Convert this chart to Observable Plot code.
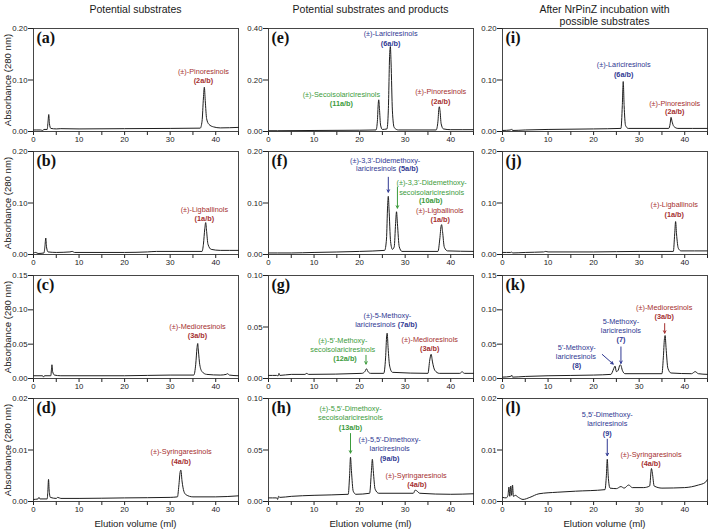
<!DOCTYPE html>
<html>
<head>
<meta charset="utf-8">
<script src="https://cdn.jsdelivr.net/npm/d3@7"></script>
<script src="https://cdn.jsdelivr.net/npm/@observablehq/plot@0.6"></script>
<style>
  body { margin: 0; background: #fff; font-family: "Liberation Sans", Arial, sans-serif; }
  #fig { position: relative; width: 709px; height: 530px; overflow: hidden; background: #fff; }
  .panel { position: absolute; }
  .title { position: absolute; font-size: 10.5px; line-height: 11px; color: #1a1a1a; white-space: nowrap; transform: translate(-50%, -50%); }
  .xlab { position: absolute; font-size: 9.6px; color: #1a1a1a; white-space: nowrap; transform: translate(-50%, -50%); }
  .ylab { position: absolute; font-size: 9.6px; color: #1a1a1a; white-space: nowrap; transform: translate(-50%, -50%) rotate(-90deg); }
</style>
</head>
<body>
<div id="fig"></div>
<script>
// ---- column headings, axis titles, ticks ----
const columnTitles = [["Potential substrates"], ["Potential substrates and products"], ["After NrPinZ incubation with", "possible substrates"]];
const xTitle = "Elution volume (ml)";
const yTitle = "Absorbance (280 nm)";
const xTicks = [0, 5, 10, 15, 20, 25, 30, 35, 40, 45];
const xTickLabels = [0, 10, 20, 30, 40];
const yTicks020 = [0, 0.10, 0.20];
const yTicks040 = [0, 0.20, 0.40];
const yTicks015 = [0, 0.05, 0.10, 0.15];
const yTicks010 = [0, 0.05, 0.10];
const yTicks002 = [0, 0.01, 0.02];

// ---- chromatogram traces: [elution volume (ml), absorbance] ----
const traceA = [[0,0.003],[1.5,0.003],[2,0.002],[2.3,0.004],[3.0,0.004],[3.2,0.02],[3.35,0.033],[3.5,0.015],[3.8,0.006],[5,0.005],[6,0.0055],[10,0.005],[20,0.0055],[30,0.006],[36.6,0.0065],[37.0,0.02],[37.3,0.065],[37.5,0.086],[37.7,0.06],[38,0.025],[38.5,0.014],[39.5,0.009],[41,0.007],[45,0.008]];
const traceB = [[0,0.003],[0.5,0.004],[1,0.002],[2.3,0.003],[2.5,0.015],[2.7,0.032],[2.85,0.015],[3.2,0.005],[5,0.004],[8,0.005],[8.5,0.006],[9,0.004],[20,0.004],[25,0.005],[27,0.006],[37.0,0.006],[37.3,0.02],[37.6,0.05],[37.8,0.062],[38.0,0.045],[38.3,0.02],[39,0.01],[41,0.008],[45,0.008]];
const traceC = [[0,0.004],[2,0.004],[2.2,0.002],[2.4,0.004],[3.8,0.004],[3.95,0.014],[4.05,0.02],[4.2,0.01],[4.6,0.005],[6,0.004],[20,0.004],[30,0.005],[35.2,0.005],[35.6,0.02],[35.9,0.045],[36.05,0.051],[36.2,0.04],[36.5,0.02],[37,0.01],[38,0.006],[41,0.005],[42.3,0.006],[42.6,0.007],[43,0.005],[45,0.004]];
const traceD = [[0,0.0004],[1,0.0005],[1.2,0.0008],[1.4,0.0005],[3.0,0.0005],[3.15,0.002],[3.3,0.0043],[3.45,0.002],[3.7,0.0008],[5,0.0006],[5.3,0.0008],[6,0.0006],[10,0.0006],[20,0.0007],[30,0.0008],[31.6,0.0009],[31.9,0.003],[32.2,0.0058],[32.35,0.0061],[32.6,0.004],[33,0.002],[33.5,0.0013],[35,0.0009],[40,0.0009],[45,0.0011]];
const traceE = [[0,0.003],[2,0.003],[10,0.004],[20,0.005],[23.6,0.006],[23.9,0.04],[24.1,0.11],[24.2,0.123],[24.35,0.09],[24.6,0.025],[25,0.008],[26,0.01],[26.3,0.08],[26.6,0.3],[26.75,0.33],[26.9,0.27],[27.2,0.08],[27.6,0.015],[28.5,0.006],[36.8,0.006],[37.2,0.04],[37.4,0.09],[37.5,0.096],[37.65,0.08],[37.9,0.03],[38.4,0.01],[40,0.007],[45,0.007]];
const traceF = [[0,0.003],[2,0.003],[5,0.003],[10,0.004],[20,0.006],[25.5,0.008],[25.9,0.03],[26.15,0.095],[26.3,0.113],[26.45,0.09],[26.8,0.025],[27.2,0.01],[27.6,0.015],[27.9,0.06],[28.1,0.083],[28.3,0.06],[28.7,0.015],[29.3,0.006],[37.2,0.006],[37.6,0.03],[37.9,0.056],[38.0,0.058],[38.2,0.045],[38.6,0.014],[39.3,0.007],[45,0.006]];
const traceG = [[0,0.003],[1.8,0.003],[2.1,0.0025],[2.3,0.005],[2.5,0.003],[5,0.004],[8,0.004],[8.4,0.005],[8.8,0.004],[20.5,0.005],[21.2,0.007],[21.5,0.0095],[21.8,0.007],[22.4,0.005],[25.3,0.005],[25.7,0.02],[25.95,0.042],[26.05,0.044],[26.25,0.03],[26.6,0.012],[27.2,0.006],[35,0.005],[35.4,0.018],[35.7,0.0235],[36.0,0.016],[36.5,0.008],[37.5,0.005],[42,0.005],[42.5,0.0065],[43,0.005],[45,0.005]];
const traceH = [[0,0.0035],[1.8,0.0035],[2.0,0.002],[2.2,0.005],[2.5,0.004],[5,0.005],[10,0.006],[17.5,0.007],[17.8,0.025],[18.0,0.043],[18.2,0.03],[18.6,0.01],[19.2,0.007],[22.2,0.008],[22.6,0.03],[22.8,0.041],[23.0,0.03],[23.4,0.012],[24.2,0.008],[31.8,0.008],[32.2,0.011],[32.5,0.0105],[33.2,0.008],[40,0.007],[45,0.0075]];
const traceI = [[0,0.002],[1.8,0.003],[2.0,0.005],[2.2,0.002],[5,0.003],[10,0.004],[20,0.005],[26.0,0.006],[26.3,0.05],[26.5,0.097],[26.7,0.05],[27.0,0.012],[27.6,0.006],[36.5,0.006],[36.8,0.015],[37.0,0.0275],[37.2,0.02],[37.6,0.01],[38.5,0.006],[45,0.006]];
const traceJ = [[0,0.004],[1.8,0.004],[2.0,0.005],[2.2,0.003],[5,0.004],[9,0.005],[9.5,0.006],[10,0.005],[20,0.005],[30,0.006],[37.5,0.006],[37.8,0.04],[38.0,0.064],[38.2,0.04],[38.6,0.012],[39.2,0.007],[45,0.007]];
const traceK = [[0,0.002],[1.8,0.003],[2.0,0.005],[2.2,0.002],[5,0.003],[10,0.004],[20,0.005],[23.8,0.006],[24.4,0.014],[24.7,0.018],[25.0,0.01],[25.4,0.012],[25.8,0.02],[26.0,0.019],[26.3,0.012],[26.9,0.007],[35,0.007],[35.3,0.03],[35.55,0.058],[35.7,0.0626],[35.9,0.045],[36.3,0.015],[37,0.008],[41.5,0.007],[42.3,0.01],[43,0.007],[45,0.006]];
const traceL = [[0,0.0008],[0.8,0.0007],[1.2,0.0012],[1.4,0.0028],[1.6,0.001],[1.8,0.003],[2.0,0.0012],[2.2,0.0032],[2.4,0.001],[2.8,0.0012],[3.5,0.0008],[4.5,0.0004],[6,0.0008],[8,0.0015],[12,0.0018],[16,0.002],[22.5,0.0023],[22.8,0.005],[23.0,0.0082],[23.2,0.005],[23.6,0.0026],[25,0.0025],[26,0.0029],[26.7,0.0026],[27.7,0.0032],[28.5,0.0027],[31,0.0027],[32.3,0.003],[32.7,0.0064],[32.9,0.0055],[33.3,0.003],[35,0.0026],[40,0.0027],[43,0.0032],[44.5,0.0037],[45,0.0043]];

// ---- peak annotations (hue: sub = substrate, lar = lariciresinol, seco = secoisolariciresinol) ----
const labelsA = [{x:37.3,y:0.117,text:"(±)-Pinoresinols",hue:"sub"},{x:37.3,y:0.098,text:"(2a/b)",hue:"sub",bold:true}];
const labelsB = [{x:37.5,y:0.088,text:"(±)-Ligballinols",hue:"sub"},{x:37.5,y:0.069,text:"(1a/b)",hue:"sub",bold:true}];
const labelsC = [{x:36,y:0.076,text:"(±)-Medioresinols",hue:"sub"},{x:36,y:0.063,text:"(3a/b)",hue:"sub",bold:true}];
const labelsD = [{x:32.4,y:0.0096,text:"(±)-Syringaresinols",hue:"sub"},{x:32.4,y:0.0078,text:"(4a/b)",hue:"sub",bold:true}];
const labelsE = [
  {x:26.8,y:0.381,text:"(±)-Lariciresinols",hue:"lar"},{x:26.8,y:0.342,text:"(6a/b)",hue:"lar",bold:true},
  {x:16,y:0.142,text:"(±)-Secoisolariciresinols",hue:"seco"},{x:16,y:0.108,text:"(11a/b)",hue:"seco",bold:true},
  {x:37.8,y:0.155,text:"(±)-Pinoresinols",hue:"sub"},{x:37.8,y:0.117,text:"(2a/b)",hue:"sub",bold:true}];
const labelsF = [
  {x:25.6,y:0.183,text:"(±)-3,3'-Didemethoxy-",hue:"lar"},{x:28.3,y:0.166,text:"lariciresinols",tag:"(5a/b)",hue:"lar"},
  {x:35.8,y:0.140,text:"(±)-3,3'-Didemethoxy-",hue:"seco"},{x:35.8,y:0.121,text:"secoisolariciresinols",hue:"seco"},{x:35.6,y:0.104,text:"(10a/b)",hue:"seco",bold:true},
  {x:37.6,y:0.085,text:"(±)-Ligballinols",hue:"sub"},{x:37.7,y:0.067,text:"(1a/b)",hue:"sub",bold:true}];
const labelsG = [
  {x:26.1,y:0.061,text:"(±)-5-Methoxy-",hue:"lar"},{x:28.1,y:0.052,text:"lariciresinols",tag:"(7a/b)",hue:"lar"},
  {x:16.3,y:0.037,text:"(±)-5'-Methoxy-",hue:"seco"},{x:16.3,y:0.028,text:"secoisolariciresinols",hue:"seco"},{x:16.8,y:0.019,text:"(12a/b)",hue:"seco",bold:true},
  {x:35.4,y:0.038,text:"(±)-Medioresinols",hue:"sub"},{x:35.4,y:0.029,text:"(3a/b)",hue:"sub",bold:true}];
const labelsH = [
  {x:18,y:0.090,text:"(±)-5,5'-Dimethoxy-",hue:"seco"},{x:18,y:0.081,text:"secoisolariciresinols",hue:"seco"},{x:18,y:0.072,text:"(13a/b)",hue:"seco",bold:true},
  {x:26.6,y:0.060,text:"(±)-5,5'-Dimethoxy-",hue:"lar"},{x:26.6,y:0.051,text:"lariciresinols",hue:"lar"},{x:26.6,y:0.042,text:"(9a/b)",hue:"lar",bold:true},
  {x:32.4,y:0.0255,text:"(±)-Syringaresinols",hue:"sub"},{x:32.6,y:0.0167,text:"(4a/b)",hue:"sub",bold:true}];
const labelsI = [
  {x:26.6,y:0.129,text:"(±)-Lariciresinols",hue:"lar"},{x:26.6,y:0.111,text:"(6a/b)",hue:"lar",bold:true},
  {x:37.8,y:0.055,text:"(±)-Pinoresinols",hue:"sub"},{x:37.8,y:0.038,text:"(2a/b)",hue:"sub",bold:true}];
const labelsJ = [{x:37.7,y:0.096,text:"(±)-Ligballinols",hue:"sub"},{x:37.7,y:0.078,text:"(1a/b)",hue:"sub",bold:true}];
const labelsK = [
  {x:35.5,y:0.103,text:"(±)-Medioresinols",hue:"sub"},{x:35.5,y:0.090,text:"(3a/b)",hue:"sub",bold:true},
  {x:26.0,y:0.083,text:"5-Methoxy-",hue:"lar"},{x:26.0,y:0.070,text:"lariciresinols",hue:"lar"},{x:26.0,y:0.056,text:"(7)",hue:"lar",bold:true},
  {x:16.3,y:0.045,text:"5'-Methoxy-",hue:"lar"},{x:16.1,y:0.032,text:"lariciresinols",hue:"lar"},{x:16.3,y:0.019,text:"(8)",hue:"lar",bold:true}];
const labelsL = [
  {x:23.0,y:0.0169,text:"5,5'-Dimethoxy-",hue:"lar"},{x:23.0,y:0.0151,text:"lariciresinols",hue:"lar"},{x:23.0,y:0.0131,text:"(9)",hue:"lar",bold:true},
  {x:32.6,y:0.0090,text:"(±)-Syringaresinols",hue:"sub"},{x:32.6,y:0.0073,text:"(4a/b)",hue:"sub",bold:true}];

// ---- pointer arrows ----
const arrowsF = [{x1:26.3,y1:0.150,x2:26.3,y2:0.121,hue:"lar"},{x1:28.3,y1:0.131,x2:28.3,y2:0.090,hue:"seco"}];
const arrowsG = [{x1:21.4,y1:0.0225,x2:21.4,y2:0.0140,hue:"seco"}];
const arrowsH = [{x1:18,y1:0.066,x2:18,y2:0.047,hue:"seco"}];
const arrowsK = [{x1:35.6,y1:0.080,x2:35.6,y2:0.066,hue:"sub"},{x1:26.0,y1:0.046,x2:26.0,y2:0.022,hue:"lar"},{x1:21.9,y1:0.035,x2:24.3,y2:0.021,hue:"lar"}];
const arrowsL = [{x1:23.0,y1:0.0121,x2:23.0,y2:0.0089,hue:"lar"}];

const hues = {sub: "#a5302f", lar: "#2f3892", seco: "#3c9b3c"};

const panels = [
  {id:"a", col:0, row:0, yMax:0.20, yTicks:yTicks020, trace:traceA, labels:labelsA, arrows:[]},
  {id:"b", col:0, row:1, yMax:0.20, yTicks:yTicks020, trace:traceB, labels:labelsB, arrows:[]},
  {id:"c", col:0, row:2, yMax:0.15, yTicks:yTicks015, trace:traceC, labels:labelsC, arrows:[]},
  {id:"d", col:0, row:3, yMax:0.02, yTicks:yTicks002, trace:traceD, labels:labelsD, arrows:[]},
  {id:"e", col:1, row:0, yMax:0.40, yTicks:yTicks040, trace:traceE, labels:labelsE, arrows:[]},
  {id:"f", col:1, row:1, yMax:0.20, yTicks:yTicks020, trace:traceF, labels:labelsF, arrows:arrowsF},
  {id:"g", col:1, row:2, yMax:0.10, yTicks:yTicks010, trace:traceG, labels:labelsG, arrows:arrowsG},
  {id:"h", col:1, row:3, yMax:0.10, yTicks:yTicks010, trace:traceH, labels:labelsH, arrows:arrowsH},
  {id:"i", col:2, row:0, yMax:0.20, yTicks:yTicks020, trace:traceI, labels:labelsI, arrows:[]},
  {id:"j", col:2, row:1, yMax:0.20, yTicks:yTicks020, trace:traceJ, labels:labelsJ, arrows:[]},
  {id:"k", col:2, row:2, yMax:0.15, yTicks:yTicks015, trace:traceK, labels:labelsK, arrows:arrowsK},
  {id:"l", col:2, row:3, yMax:0.02, yTicks:yTicks002, trace:traceL, labels:labelsL, arrows:arrowsL}
];

// ---- layout of the 4 x 3 grid (frame edges in page pixels) ----
const frameLeft = [33, 268, 502];
const frameTop = [28, 151, 275, 398];
const frameW = 205, frameH = 103;
const mTop = 8, mBottom = 18, mRight = 3;

const fig = document.getElementById("fig");
const fontFamily = "'Liberation Sans', Arial, sans-serif";

function drawPanel(p) {
  const mLeft = p.col === 0 ? 33 : 30;
  const base = {x: "x", y: "y", text: "text", fill: d => hues[d.hue], fontSize: 7.3, fontFamily};
  const chart = Plot.plot({
    width: mLeft + frameW + mRight,
    height: mTop + frameH + mBottom,
    marginLeft: mLeft, marginRight: mRight, marginTop: mTop, marginBottom: mBottom,
    style: {background: "transparent", fontFamily, fontSize: "7.8px", color: "#222", overflow: "visible", maxWidth: "none"},
    x: {domain: [0, 45], ticks: xTicks, tickSize: 4, tickPadding: 1, label: null,
        tickFormat: d => xTickLabels.includes(d) ? String(d) : ""},
    y: {domain: [0, p.yMax], ticks: p.yTicks, tickSize: 5, tickPadding: 1, label: null, tickFormat: d3.format(".2f")},
    color: {type: "identity"},
    marks: [
      Plot.frame({stroke: "#333", strokeWidth: 0.9}),
      Plot.line(p.trace, {x: d => d[0], y: d => d[1], stroke: "#1e1e1e", strokeWidth: 1, curve: "monotone-x"}),
      Plot.arrow(p.arrows, {x1: "x1", y1: "y1", x2: "x2", y2: "y2", stroke: d => hues[d.hue], strokeWidth: 1, headLength: 4, headAngle: 55}),
      Plot.text(p.labels.filter(d => !d.bold && !d.tag), base),
      Plot.text(p.labels.filter(d => d.bold), {...base, fontWeight: "bold"}),
      Plot.text(p.labels.filter(d => d.tag), {...base, textAnchor: "end", dx: -1.2}),
      Plot.text(p.labels.filter(d => d.tag), {...base, text: "tag", textAnchor: "start", dx: 1.2, fontWeight: "bold"}),
      Plot.text([`(${p.id})`], {frameAnchor: "top-left", text: d => d, dx: 3, dy: 3, textAnchor: "start", lineAnchor: "top",
        fontFamily: "'Liberation Serif', 'Times New Roman', serif", fontWeight: "bold", fontSize: 16, fill: "#111"})
    ]
  });
  const holder = document.createElement("div");
  holder.className = "panel";
  holder.style.left = (frameLeft[p.col] - mLeft) + "px";
  holder.style.top = (frameTop[p.row] - mTop) + "px";
  holder.appendChild(chart);
  fig.appendChild(holder);
}

panels.forEach(drawPanel);

// column headings
const titleY = [[9], [9], [9, 21]];
columnTitles.forEach((lines, c) => {
  lines.forEach((line, k) => {
    const t = document.createElement("div");
    t.className = "title";
    t.textContent = line;
    t.style.left = (frameLeft[c] + frameW / 2) + "px";
    t.style.top = titleY[c][k] + "px";
    fig.appendChild(t);
  });
});

// axis titles
frameLeft.forEach(fl => {
  const t = document.createElement("div");
  t.className = "xlab";
  t.textContent = xTitle;
  t.style.left = (fl + frameW / 2) + "px";
  t.style.top = "523px";
  fig.appendChild(t);
});
frameTop.forEach(ft => {
  const t = document.createElement("div");
  t.className = "ylab";
  t.textContent = yTitle;
  t.style.left = "7px";
  t.style.top = (ft + frameH / 2) + "px";
  fig.appendChild(t);
});
</script>
</body>
</html>
